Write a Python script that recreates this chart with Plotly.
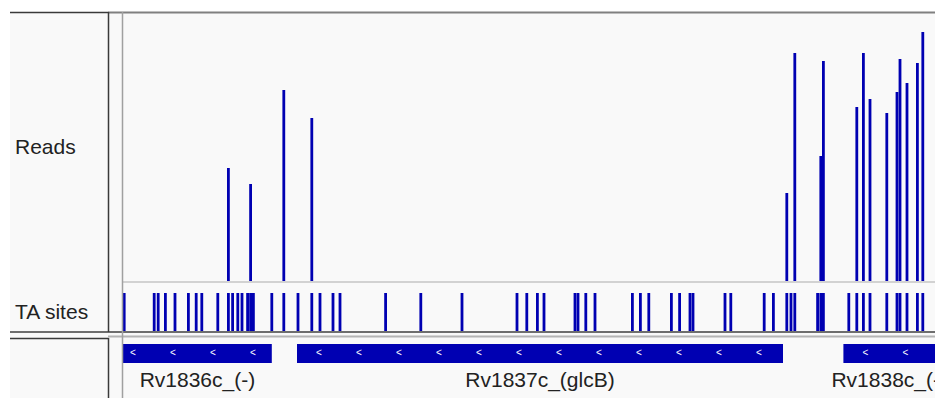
import plotly.graph_objects as go

# Window in bp (relative to window start)
window = [0, 4060]

# TA dinucleotide sites in the window
ta_sites = [6, 156, 176, 212, 260, 327, 366, 394, 474, 527, 548, 574, 595, 623, 638, 652,
            744, 804, 875, 944, 985, 1050, 1085, 1313, 1489, 1695, 1970, 2019, 2072, 2105,
            2260, 2275, 2314, 2360, 2547, 2587, 2629, 2742, 2783, 2835, 2850, 3010, 3039,
            3206, 3252, 3319, 3340, 3359, 3473, 3489, 3502, 3629, 3669, 3702, 3735, 3819,
            3870, 3885, 3920, 3972, 3999]

# Insertion read counts at TA sites
read_pos = [527, 638, 804, 944, 3319, 3359, 3489, 3502, 3669, 3702, 3735, 3819, 3870,
            3885, 3920, 3972, 3999]
read_cnt = [114, 98, 192, 164, 89, 229, 126, 221, 175, 229, 183, 169, 190, 223, 199, 219, 250]

# Gene annotations (all on the minus strand)
gene_names = ["Rv1836c_(-)", "Rv1837c_(glcB)", "Rv1838c_(-)"]
gene_start = [-260, 870, 3602]
gene_end = [744, 3300, 4400]

W, H = 935, 398
BLUE = "rgb(0,0,178)"
TXT = "#222222"
FONT = "Liberation Sans, Arial, sans-serif"
BAR_W = 14


def py(px):
    return 1 - px / H


def px_x(px):
    return px / W


x_dom = [px_x(123), 1]

fig = go.Figure()

# Reads track
fig.add_trace(go.Bar(x=read_pos, y=read_cnt, width=BAR_W, marker=dict(color=BLUE, line=dict(width=0)),
                     xaxis="x", yaxis="y", showlegend=False, hoverinfo="x+y"))

# TA sites track
fig.add_trace(go.Bar(x=ta_sites, y=[1] * len(ta_sites), width=BAR_W,
                     marker=dict(color=BLUE, line=dict(width=0)),
                     xaxis="x2", yaxis="y2", showlegend=False, hoverinfo="x"))

# Gene track
fig.add_trace(go.Bar(base=gene_start, x=[e - s for s, e in zip(gene_start, gene_end)],
                     y=[15.5] * len(gene_names), width=19, orientation="h",
                     marker=dict(color=BLUE, line=dict(width=0)), text=gene_names,
                     textposition="none", xaxis="x3", yaxis="y3", showlegend=False,
                     hoverinfo="text"))

# Strand chevrons inside each gene box
chev_x = []
for s, e in zip(gene_start, gene_end):
    p = s + 110
    while p < e - 40:
        if window[0] <= p <= window[1]:
            chev_x.append(p)
        p += 200
fig.add_trace(go.Scatter(x=chev_x, y=[15.5] * len(chev_x), mode="text", text=["<"] * len(chev_x),
                         textfont=dict(color="white", size=10, family=FONT),
                         xaxis="x3", yaxis="y3", showlegend=False, hoverinfo="skip"))

# Gene names centred on the visible part of each gene
lab_x = [(max(s, window[0]) + min(e, window[1])) / 2 for s, e in zip(gene_start, gene_end)]
fig.add_trace(go.Scatter(x=lab_x, y=[44] * len(lab_x), mode="text", text=gene_names,
                         textfont=dict(color=TXT, size=21, family=FONT),
                         xaxis="x3", yaxis="y3", showlegend=False, hoverinfo="skip"))

ax_common = dict(visible=False, range=window, domain=x_dom, fixedrange=True)

fig.update_layout(
    width=W, height=H, margin=dict(l=0, r=0, t=0, b=0),
    paper_bgcolor="white", plot_bgcolor="rgba(0,0,0,0)",
    barmode="overlay",
    xaxis=dict(**ax_common, anchor="y"),
    xaxis2=dict(**ax_common, anchor="y2"),
    xaxis3=dict(**ax_common, anchor="y3"),
    yaxis=dict(visible=False, range=[0, 270], domain=[py(282), py(12)], anchor="x"),
    yaxis2=dict(visible=False, range=[0, 1], domain=[py(331.5), py(293)], anchor="x2"),
    yaxis3=dict(visible=False, range=[60, 0], domain=[0, py(338)], anchor="x3"),
)

shapes = []
# panel backgrounds
shapes.append(dict(type="rect", xref="paper", yref="paper", x0=px_x(10), x1=1, y0=0, y1=py(12),
                   fillcolor="#f9f9f9", line=dict(width=0), layer="below"))


def hline(y, x0, x1, color, w):
    shapes.append(dict(type="line", xref="paper", yref="paper", x0=px_x(x0), x1=px_x(x1),
                       y0=py(y), y1=py(y), line=dict(color=color, width=w), layer="above"))


def vline(x, y0, y1, color, w):
    shapes.append(dict(type="line", xref="paper", yref="paper", x0=px_x(x), x1=px_x(x),
                       y0=py(y0), y1=py(y1), line=dict(color=color, width=w), layer="above"))


hline(12.5, 108, 935, "#808080", 2)
hline(12.5, 10, 108.5, "#3a3a3a", 1.5)
hline(282, 123, 935, "#d2d2d2", 2)
hline(332, 10, 935, "#6e6e6e", 2)
hline(336.5, 108, 935, "#b4b4b4", 2)
hline(338.5, 10, 108.5, "#3a3a3a", 1.5)
vline(108.5, 12, 332, "#3a3a3a", 1.5)
vline(108.5, 338, 398, "#3a3a3a", 1.5)
vline(122.5, 12, 398, "#a0a0a0", 1.5)

fig.update_layout(shapes=shapes)

fig.add_annotation(text="Reads", xref="paper", yref="paper", x=px_x(13), y=py(146.5),
                   xanchor="left", yanchor="middle", showarrow=False,
                   font=dict(size=21, color=TXT, family=FONT))
fig.add_annotation(text="TA sites", xref="paper", yref="paper", x=px_x(13), y=py(311),
                   xanchor="left", yanchor="middle", showarrow=False,
                   font=dict(size=21, color=TXT, family=FONT))

fig.write_html("out.html")
